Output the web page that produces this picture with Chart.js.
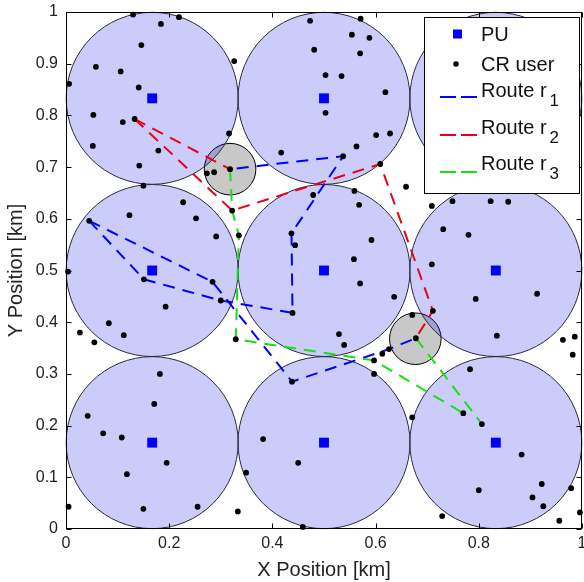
<!DOCTYPE html>
<html><head><meta charset="utf-8">
<script src="https://cdn.jsdelivr.net/npm/chart.js@4.4.1/dist/chart.umd.min.js"></script>
<style>html,body{margin:0;padding:0;background:#fff;}canvas{display:block;}</style>
</head><body>
<canvas id="c" width="584" height="582"></canvas>
<script>
const FONT = '"Liberation Sans", Arial, Helvetica, sans-serif';

const xTickVals = [0, 0.2, 0.4, 0.6, 0.8, 1];
const xTickLabels = ['0', '0.2', '0.4', '0.6', '0.8', '1'];
const yTickVals = [0, 0.1, 0.2, 0.3, 0.4, 0.5, 0.6, 0.7, 0.8, 0.9, 1];
const yTickLabels = ['0', '0.1', '0.2', '0.3', '0.4', '0.5', '0.6', '0.7', '0.8', '0.9', '1'];

// Primary users (centres of coverage circles)
const puX = [0.167, 0.5, 0.833, 0.167, 0.5, 0.833, 0.167, 0.5, 0.833];
const puY = [0.833, 0.833, 0.833, 0.5, 0.5, 0.5, 0.167, 0.167, 0.167];
const coverRadius = 1 / 6;

// Grey circles
const greyX = [0.318, 0.677];
const greyY = [0.696, 0.368];
const greyRadius = 0.05;

// CR users
const crX = [0.130,0.219,0.184,0.146,0.058,0.106,0.006,0.141,0.326,0.053,0.110,0.133,0.052,0.179,0.316,0.142,0.273,0.287,0.318,0.150,
  0.227,0.123,0.045,0.252,0.322,0.291,0.335,0.004,0.151,0.284,0.437,0.444,0.417,0.473,0.571,0.554,0.588,0.481,0.570,0.503,
  0.534,0.619,0.503,0.601,0.628,0.563,0.537,0.609,0.659,0.709,0.749,0.823,0.857,0.559,0.479,0.568,0.731,0.780,0.592,0.558,
  0.709,0.570,0.193,0.300,0.083,0.112,0.027,0.055,0.329,0.439,0.182,0.171,0.042,0.072,0.108,0.195,0.118,0.005,0.150,0.255,
  0.333,0.382,0.349,0.438,0.450,0.636,0.794,0.913,0.711,0.671,0.529,0.539,0.678,0.835,0.963,0.986,0.982,0.626,0.613,0.597,
  0.597,0.783,0.671,0.770,0.806,0.883,0.922,0.800,0.979,0.904,0.925,0.996,0.956,0.729,0.459];
const crY = [0.995,0.990,0.977,0.936,0.894,0.885,0.861,0.854,0.905,0.801,0.787,0.793,0.741,0.732,0.765,0.703,0.688,0.690,0.696,0.664,
  0.632,0.607,0.596,0.601,0.616,0.566,0.568,0.498,0.483,0.478,0.572,0.549,0.728,0.983,0.987,0.956,0.950,0.927,0.920,0.878,
  0.876,0.845,0.805,0.762,0.765,0.740,0.721,0.706,0.662,0.625,0.634,0.634,0.633,0.654,0.646,0.627,0.580,0.569,0.559,0.522,
  0.512,0.475,0.430,0.442,0.398,0.375,0.380,0.361,0.367,0.418,0.300,0.242,0.219,0.185,0.177,0.128,0.106,0.043,0.039,0.043,
  0.034,0.174,0.109,0.285,0.128,0.449,0.445,0.455,0.422,0.414,0.377,0.356,0.369,0.374,0.366,0.372,0.337,0.348,0.339,0.326,
  0.300,0.309,0.216,0.224,0.203,0.144,0.087,0.075,0.079,0.061,0.044,0.032,0.016,0.025,0.004];

// Route r1 (two branches)
const r1aX = [0.045, 0.151, 0.300, 0.439, 0.437, 0.537, 0.318];
const r1aY = [0.596, 0.483, 0.442, 0.418, 0.572, 0.721, 0.696];
const r1bX = [0.045, 0.284, 0.438, 0.626, 0.678];
const r1bY = [0.596, 0.478, 0.285, 0.348, 0.369];
// Route r2
const r2aX = [0.133, 0.318];
const r2aY = [0.793, 0.696];
const r2bX = [0.133, 0.322, 0.609, 0.711, 0.678];
const r2bY = [0.793, 0.616, 0.706, 0.422, 0.369];
// Route r3
const r3aX = [0.318, 0.322, 0.335, 0.329, 0.597, 0.770];
const r3aY = [0.696, 0.616, 0.568, 0.367, 0.326, 0.224];
const r3bX = [0.678, 0.806];
const r3bY = [0.369, 0.203];

const legendLabels = ['PU', 'CR user', 'Route r', 'Route r', 'Route r'];
const legendSubs = ['', '', '1', '2', '3'];

function pts(xs, ys) { return xs.map((x, i) => ({ x: x, y: ys[i] })); }
function radiusFor(r) {
  return function (ctx) {
    const s = ctx.chart.scales.x;
    return Math.abs(s.getPixelForValue(r) - s.getPixelForValue(0));
  };
}

const BLUE = 'rgb(0,0,255)', RED = 'rgb(235,0,25)', GREEN = 'rgb(20,225,20)';

function routeDs(xs, ys, color, order) {
  return { data: pts(xs, ys), showLine: true, borderColor: color, borderWidth: 2,
    borderDash: [12, 8], pointRadius: 0, tension: 0, fill: false, order: order, clip: false };
}

const frame = {
  id: 'frame',
  afterDraw(chart) {
    const c = chart.ctx, a = chart.chartArea;
    const sx = chart.scales.x, sy = chart.scales.y;
    c.save();
    c.strokeStyle = '#000'; c.lineWidth = 1;
    const L = Math.round(a.left) + 0.5, R = Math.round(a.right) - 0.5;
    const T = Math.round(a.top) + 0.5, B = Math.round(a.bottom) - 0.5;
    c.beginPath();
    xTickVals.forEach(v => {
      const p = Math.round(sx.getPixelForValue(v)) + 0.5;
      c.moveTo(p, B); c.lineTo(p, B - 5);
      c.moveTo(p, T); c.lineTo(p, T + 5);
    });
    yTickVals.forEach(v => {
      const p = Math.round(sy.getPixelForValue(v)) + 0.5;
      c.moveTo(L, p); c.lineTo(L + 5, p);
      c.moveTo(R, p); c.lineTo(R - 5, p);
    });
    c.stroke();
    c.strokeRect(L, T, R - L, B - T);

    // legend
    const lx = Math.round(a.right) - 158, ly = Math.round(a.top) + 5, lw = 155, lh = 176;
    c.fillStyle = '#fff'; c.fillRect(lx, ly, lw, lh);
    c.strokeRect(lx + 0.5, ly + 0.5, lw, lh);
    const rowY = [17, 47, 73, 110, 146];
    const lineY = [0, 0, 80, 118, 155];
    const cols = [BLUE, '#000', BLUE, RED, GREEN];
    legendLabels.forEach((lab, i) => {
      const cy = ly + rowY[i];
      if (i === 0) { c.fillStyle = BLUE; c.fillRect(lx + 29, cy - 4.5, 9, 9); }
      else if (i === 1) { c.fillStyle = '#000'; c.beginPath(); c.arc(lx + 32, cy, 2.8, 0, Math.PI * 2); c.fill(); }
      else {
        c.save(); c.strokeStyle = cols[i]; c.lineWidth = 2; c.setLineDash([16, 5]);
        c.beginPath(); c.moveTo(lx + 16, ly + lineY[i]); c.lineTo(lx + 53, ly + lineY[i]); c.stroke(); c.restore();
      }
      c.fillStyle = '#111'; c.font = '20px ' + FONT; c.textBaseline = 'alphabetic'; c.textAlign = 'left';
      const base = cy + 7;
      c.fillText(lab, lx + 57, base);
      if (legendSubs[i]) {
        const w = c.measureText(lab).width;
        c.font = '17px ' + FONT;
        c.fillText(legendSubs[i], lx + 57 + w + 3, base + 9);
      }
    });
    c.restore();
  }
};

new Chart(document.getElementById('c'), {
  type: 'scatter',
  data: {
    datasets: [
      { data: pts(puX, puY), pointStyle: 'rect', pointRadius: 7, backgroundColor: BLUE, borderColor: BLUE, borderWidth: 0, order: 1, clip: false },
      { data: pts(crX, crY), pointStyle: 'circle', pointRadius: 2.9, backgroundColor: '#000', borderColor: '#000', borderWidth: 0, order: 2, clip: false },
      routeDs(r3aX, r3aY, GREEN, 3), routeDs(r3bX, r3bY, GREEN, 3),
      routeDs(r2aX, r2aY, RED, 4), routeDs(r2bX, r2bY, RED, 4),
      routeDs(r1aX, r1aY, BLUE, 5), routeDs(r1bX, r1bY, BLUE, 5),
      { data: pts(puX, puY), pointStyle: 'circle', pointRadius: radiusFor(coverRadius), backgroundColor: 'rgba(0,0,230,0.2)', borderColor: 'rgb(40,40,60)', borderWidth: 1, order: 6, clip: false },
      { data: pts(greyX, greyY), pointStyle: 'circle', pointRadius: radiusFor(greyRadius), backgroundColor: 'rgb(200,200,200)', borderColor: '#000', borderWidth: 1, order: 7, clip: false }
    ]
  },
  options: {
    responsive: false, animation: false, devicePixelRatio: 1, events: [],
    layout: { autoPadding: false, padding: { left: 0, right: 2, top: 12, bottom: 0 } },
    plugins: { legend: { display: false }, tooltip: { enabled: false } },
    scales: {
      x: {
        type: 'linear', min: 0, max: 1,
        afterBuildTicks: s => { s.ticks = xTickVals.map(v => ({ value: v })); },
        ticks: { callback: (v, i) => xTickLabels[i], padding: 5, autoSkip: false, maxRotation: 0, color: '#222', font: { family: FONT, size: 16 } },
        grid: { display: false, drawTicks: false }, border: { display: false },
        title: { display: true, text: 'X Position [km]', color: '#222', font: { family: FONT, size: 20 }, padding: { top: 0, bottom: 0 } },
        afterFit: s => { s.height = 53; s.paddingLeft = 0; s.paddingRight = 0; }
      },
      y: {
        type: 'linear', min: 0, max: 1,
        afterBuildTicks: s => { s.ticks = yTickVals.map(v => ({ value: v })); },
        ticks: { callback: (v, i) => yTickLabels[i], padding: 8, autoSkip: false, color: '#222', font: { family: FONT, size: 16 } },
        grid: { display: false, drawTicks: false }, border: { display: false },
        title: { display: true, text: 'Y Position [km]', color: '#222', font: { family: FONT, size: 20 }, padding: { top: 4, bottom: 0 } },
        afterFit: s => { s.width = 66; s.paddingTop = 0; s.paddingBottom = 0; }
      }
    }
  },
  plugins: [frame]
});
</script>
</body></html>
